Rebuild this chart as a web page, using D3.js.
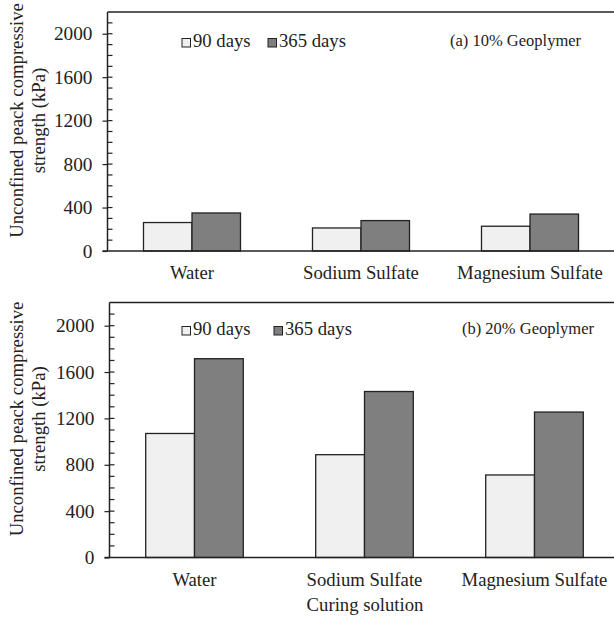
<!DOCTYPE html>
<html>
<head>
<meta charset="utf-8">
<script src="https://cdn.jsdelivr.net/npm/d3@7"></script>
<style>
  body { margin: 0; background: #fff; }
  text { font-family: "Liberation Serif", "DejaVu Serif", serif; fill: #222; }
</style>
</head>
<body>
<div id="chart"></div>
<script>
// data
var categories = ["Water", "Sodium Sulfate", "Magnesium Sulfate"];
var seriesNames = ["90 days", "365 days"];
var values10 = [[262, 350], [212, 280], [228, 340]];   // (a) 10% Geoplymer
var values20 = [[1070, 1715], [887, 1432], [712, 1255]]; // (b) 20% Geoplymer
var majorTicks = [0, 400, 800, 1200, 1600, 2000];
var panelTitles = ["(a) 10% Geoplymer", "(b) 20% Geoplymer"];

var colors = ["#f0f0f0", "#7f7f7f"];
var ink = "#222";
var fs = 18.7;

var svg = d3.select("#chart").append("svg")
  .attr("width", 614)
  .attr("height", 617);

// panel layout
var panels = [
  { data: values10, title: panelTitles[0], left: 107.5, top: 12, bottom: 251, width: 507,
    legendY: 47, legendX: [182, 268], titleX: 450, titleY: 46 },
  { data: values20, title: panelTitles[1], left: 109.5, top: 302.5, bottom: 557.5, width: 510,
    legendY: 335, legendX: [182, 274], titleX: 462, titleY: 334 }
];

panels.forEach(function(p) {
  var g = svg.append("g").attr("transform", "translate(" + p.left + ",0)");

  var y = d3.scaleLinear().domain([0, 2200]).range([p.bottom, p.top]);
  var x0 = d3.scaleBand().domain(categories).range([0, p.width])
    .paddingInner(0.426).paddingOuter(0.213);
  var x1 = d3.scaleBand().domain([0, 1]).range([0, x0.bandwidth()]);

  // bars
  var groups = g.selectAll(".grp")
    .data(p.data)
    .enter().append("g")
    .attr("transform", function(d, i) { return "translate(" + x0(categories[i]) + ",0)"; });

  groups.selectAll("rect")
    .data(function(d) { return d; })
    .enter().append("rect")
    .attr("x", function(d, j) { return x1(j); })
    .attr("y", function(d) { return y(d); })
    .attr("width", x1.bandwidth())
    .attr("height", function(d) { return y(0) - y(d); })
    .attr("fill", function(d, j) { return colors[j]; })
    .attr("stroke", ink)
    .attr("stroke-width", 1.3);

  // top frame line
  g.append("line")
    .attr("x1", 0).attr("x2", p.width + 10)
    .attr("y1", p.top).attr("y2", p.top)
    .attr("stroke", ink).attr("stroke-width", 1.5);

  // baseline
  g.append("line")
    .attr("x1", -5).attr("x2", p.width + 10)
    .attr("y1", y(0)).attr("y2", y(0))
    .attr("stroke", ink).attr("stroke-width", 1.5);

  // minor ticks (inside)
  g.selectAll(".minor")
    .data(d3.range(100, 2200, 100))
    .enter().append("line")
    .attr("x1", 0).attr("x2", 5)
    .attr("y1", function(d) { return y(d); })
    .attr("y2", function(d) { return y(d); })
    .attr("stroke", ink).attr("stroke-width", 1.2);

  // y axis
  var yAxis = d3.axisLeft(y).tickValues(majorTicks).tickSize(5).tickPadding(10)
    .tickFormat(d3.format("d"));
  var ax = g.append("g").call(yAxis);
  ax.select(".domain").attr("stroke", ink).attr("stroke-width", 1.5)
    .attr("d", "M0," + p.top + "V" + y(0));
  ax.selectAll(".tick line").attr("stroke", ink).attr("stroke-width", 1.2);
  ax.selectAll(".tick text")
    .attr("font-size", 19.3)
    .attr("fill", ink);

  // category labels
  g.selectAll(".cat")
    .data(categories)
    .enter().append("text")
    .attr("x", function(d) { return x0(d) + x0.bandwidth() / 2; })
    .attr("y", y(0) + 28)
    .attr("text-anchor", "middle")
    .attr("font-size", fs)
    .text(function(d) { return d; });

  // legend
  seriesNames.forEach(function(s, j) {
    svg.append("rect")
      .attr("x", p.legendX[j]).attr("y", p.legendY - 8.5)
      .attr("width", 8.5).attr("height", 8.5)
      .attr("fill", colors[j]).attr("stroke", ink).attr("stroke-width", 1);
    svg.append("text")
      .attr("x", p.legendX[j] + 11).attr("y", p.legendY)
      .attr("font-size", fs)
      .text(s);
  });

  // panel title
  svg.append("text")
    .attr("x", p.titleX).attr("y", p.titleY)
    .attr("font-size", 16.5)
    .text(p.title);

  // y label
  var cy = (p.top + p.bottom) / 2 - 11;
  var lab = svg.append("text")
    .attr("transform", "translate(23," + cy + ") rotate(-90)")
    .attr("text-anchor", "middle")
    .attr("font-size", fs);
  lab.append("tspan").attr("x", 0).attr("dy", 0).text("Unconfined peack compressive");
  lab.append("tspan").attr("x", 0).attr("dy", 22).text("strength (kPa)");
});

// x axis title
svg.append("text")
  .attr("x", 365).attr("y", 611)
  .attr("text-anchor", "middle")
  .attr("font-size", fs)
  .text("Curing solution");
</script>
</body>
</html>
